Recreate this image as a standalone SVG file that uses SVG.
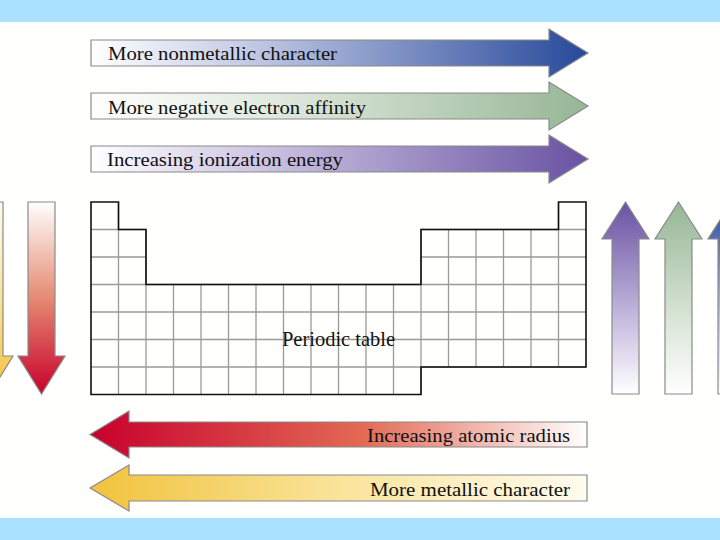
<svg xmlns="http://www.w3.org/2000/svg" width="720" height="540" viewBox="0 0 720 540">
<defs>
<style>
.arrow{stroke:#8a8a8a;stroke-width:1.2}
.lbl{font-family:"Liberation Serif","Times New Roman",serif;font-size:19px;fill:#111}
.grid{fill:none;stroke:#9a9a9a;stroke-width:1.3}
.outline{fill:none;stroke:#111;stroke-width:1.6}
.band{fill:#aae1fe}
</style>
<linearGradient id="gBlueH" x1="0" y1="0" x2="1" y2="0"><stop offset="0" stop-color="#ffffff"/><stop offset="0.3" stop-color="#c6cde6"/><stop offset="1" stop-color="#27499a"/></linearGradient>
<linearGradient id="gGreenH" x1="0" y1="0" x2="1" y2="0"><stop offset="0" stop-color="#ffffff"/><stop offset="0.35" stop-color="#e2ebe0"/><stop offset="1" stop-color="#97b696"/></linearGradient>
<linearGradient id="gPurpleH" x1="0" y1="0" x2="1" y2="0"><stop offset="0" stop-color="#ffffff"/><stop offset="0.3" stop-color="#d3cbe6"/><stop offset="1" stop-color="#6952a2"/></linearGradient>
<linearGradient id="gRedH" x1="0" y1="0" x2="1" y2="0"><stop offset="0" stop-color="#c8002c"/><stop offset="0.55" stop-color="#e26a55"/><stop offset="1" stop-color="#ffffff"/></linearGradient>
<linearGradient id="gYellowH" x1="0" y1="0" x2="1" y2="0"><stop offset="0" stop-color="#f1c23c"/><stop offset="0.5" stop-color="#f9e49a"/><stop offset="1" stop-color="#fffcf0"/></linearGradient>
<linearGradient id="gRedV" x1="0" y1="0" x2="0" y2="1"><stop offset="0" stop-color="#ffffff"/><stop offset="0.5" stop-color="#e58a72"/><stop offset="1" stop-color="#c8002c"/></linearGradient>
<linearGradient id="gYellowV" x1="0" y1="0" x2="0" y2="1"><stop offset="0" stop-color="#fffcf0"/><stop offset="0.5" stop-color="#f9e49a"/><stop offset="1" stop-color="#f1c23c"/></linearGradient>
<linearGradient id="gPurpleV" x1="0" y1="1" x2="0" y2="0"><stop offset="0" stop-color="#ffffff"/><stop offset="0.35" stop-color="#cbc2e2"/><stop offset="1" stop-color="#6952a2"/></linearGradient>
<linearGradient id="gGreenV" x1="0" y1="1" x2="0" y2="0"><stop offset="0" stop-color="#ffffff"/><stop offset="0.35" stop-color="#dde8db"/><stop offset="1" stop-color="#97b696"/></linearGradient>
<linearGradient id="gBlueV" x1="0" y1="1" x2="0" y2="0"><stop offset="0" stop-color="#ffffff"/><stop offset="0.35" stop-color="#c6cde6"/><stop offset="1" stop-color="#27499a"/></linearGradient>
</defs>
<rect x="0" y="0" width="720" height="540" fill="#fffffd"/>
<rect class="band" x="0" y="0" width="720" height="22"/>
<rect class="band" x="0" y="518" width="720" height="22"/>

<g id="arrow-nonmetallic">
<path class="arrow" fill="url(#gBlueH)" d="M91,40H549V29L588,53L549,77V66H91Z"/>
<text class="lbl" x="108" y="60" textLength="229" lengthAdjust="spacingAndGlyphs">More nonmetallic character</text>
</g>
<g id="arrow-affinity">
<path class="arrow" fill="url(#gGreenH)" d="M91,93H549V82L588,106L549,130V119H91Z"/>
<text class="lbl" x="108" y="114" textLength="258" lengthAdjust="spacingAndGlyphs">More negative electron affinity</text>
</g>
<g id="arrow-ionization">
<path class="arrow" fill="url(#gPurpleH)" d="M91,146H549V135L588,159L549,183V172H91Z"/>
<text class="lbl" x="107" y="166" textLength="236" lengthAdjust="spacingAndGlyphs">Increasing ionization energy</text>
</g>

<g id="arrow-down-yellow">
<path class="arrow" fill="url(#gYellowV)" d="M-24,202H3V356H13L-10.5,394L-34,356H-24Z"/>
</g>
<g id="arrow-down-red">
<path class="arrow" fill="url(#gRedV)" d="M28,202H55V356H65L41.5,394L18,356H28Z"/>
</g>

<g id="arrow-up-purple">
<path class="arrow" fill="url(#gPurpleV)" d="M612,394V239H602L625.5,202L649,239H639V394Z"/>
</g>
<g id="arrow-up-green">
<path class="arrow" fill="url(#gGreenV)" d="M665,394V239H655L678.5,202L702,239H692V394Z"/>
</g>
<g id="arrow-up-blue">
<path class="arrow" fill="url(#gBlueV)" d="M718,394V239H708L731.5,202L755,239H745V394Z"/>
</g>

<g id="periodic-table">
<path class="grid" d="M118.5,202V394.5M146,229.5V394.5M173.5,284.5V394.5M201,284.5V394.5M228.5,284.5V394.5M256,284.5V394.5M283.5,284.5V394.5M311,284.5V394.5M338.5,284.5V394.5M366,284.5V394.5M393.5,284.5V394.5M421,229.5V394.5M448.5,229.5V367M476,229.5V367M503.5,229.5V367M531,229.5V367M558.5,202V367M91,229.5H146M421,229.5H586M91,257H146M421,257H586M91,284.5H586M91,312H586M91,339.5H586M91,367H586"/>
<path class="outline" d="M91,202H118.5V229.5H146V284.5H421V229.5H558.5V202H586V367H421V394.5H91Z"/>
<text class="lbl" x="282" y="346" style="font-size:21px" textLength="113" lengthAdjust="spacingAndGlyphs">Periodic table</text>
</g>

<g id="arrow-radius">
<path class="arrow" fill="url(#gRedH)" d="M587,422H129V411L90,434.5L129,458V447H587Z"/>
<text class="lbl" x="570" y="442" text-anchor="end" textLength="203" lengthAdjust="spacingAndGlyphs">Increasing atomic radius</text>
</g>
<g id="arrow-metallic">
<path class="arrow" fill="url(#gYellowH)" d="M587,475H129V465L90,488L129,511V501H587Z"/>
<text class="lbl" x="570" y="496" text-anchor="end" textLength="200" lengthAdjust="spacingAndGlyphs">More metallic character</text>
</g>
</svg>
